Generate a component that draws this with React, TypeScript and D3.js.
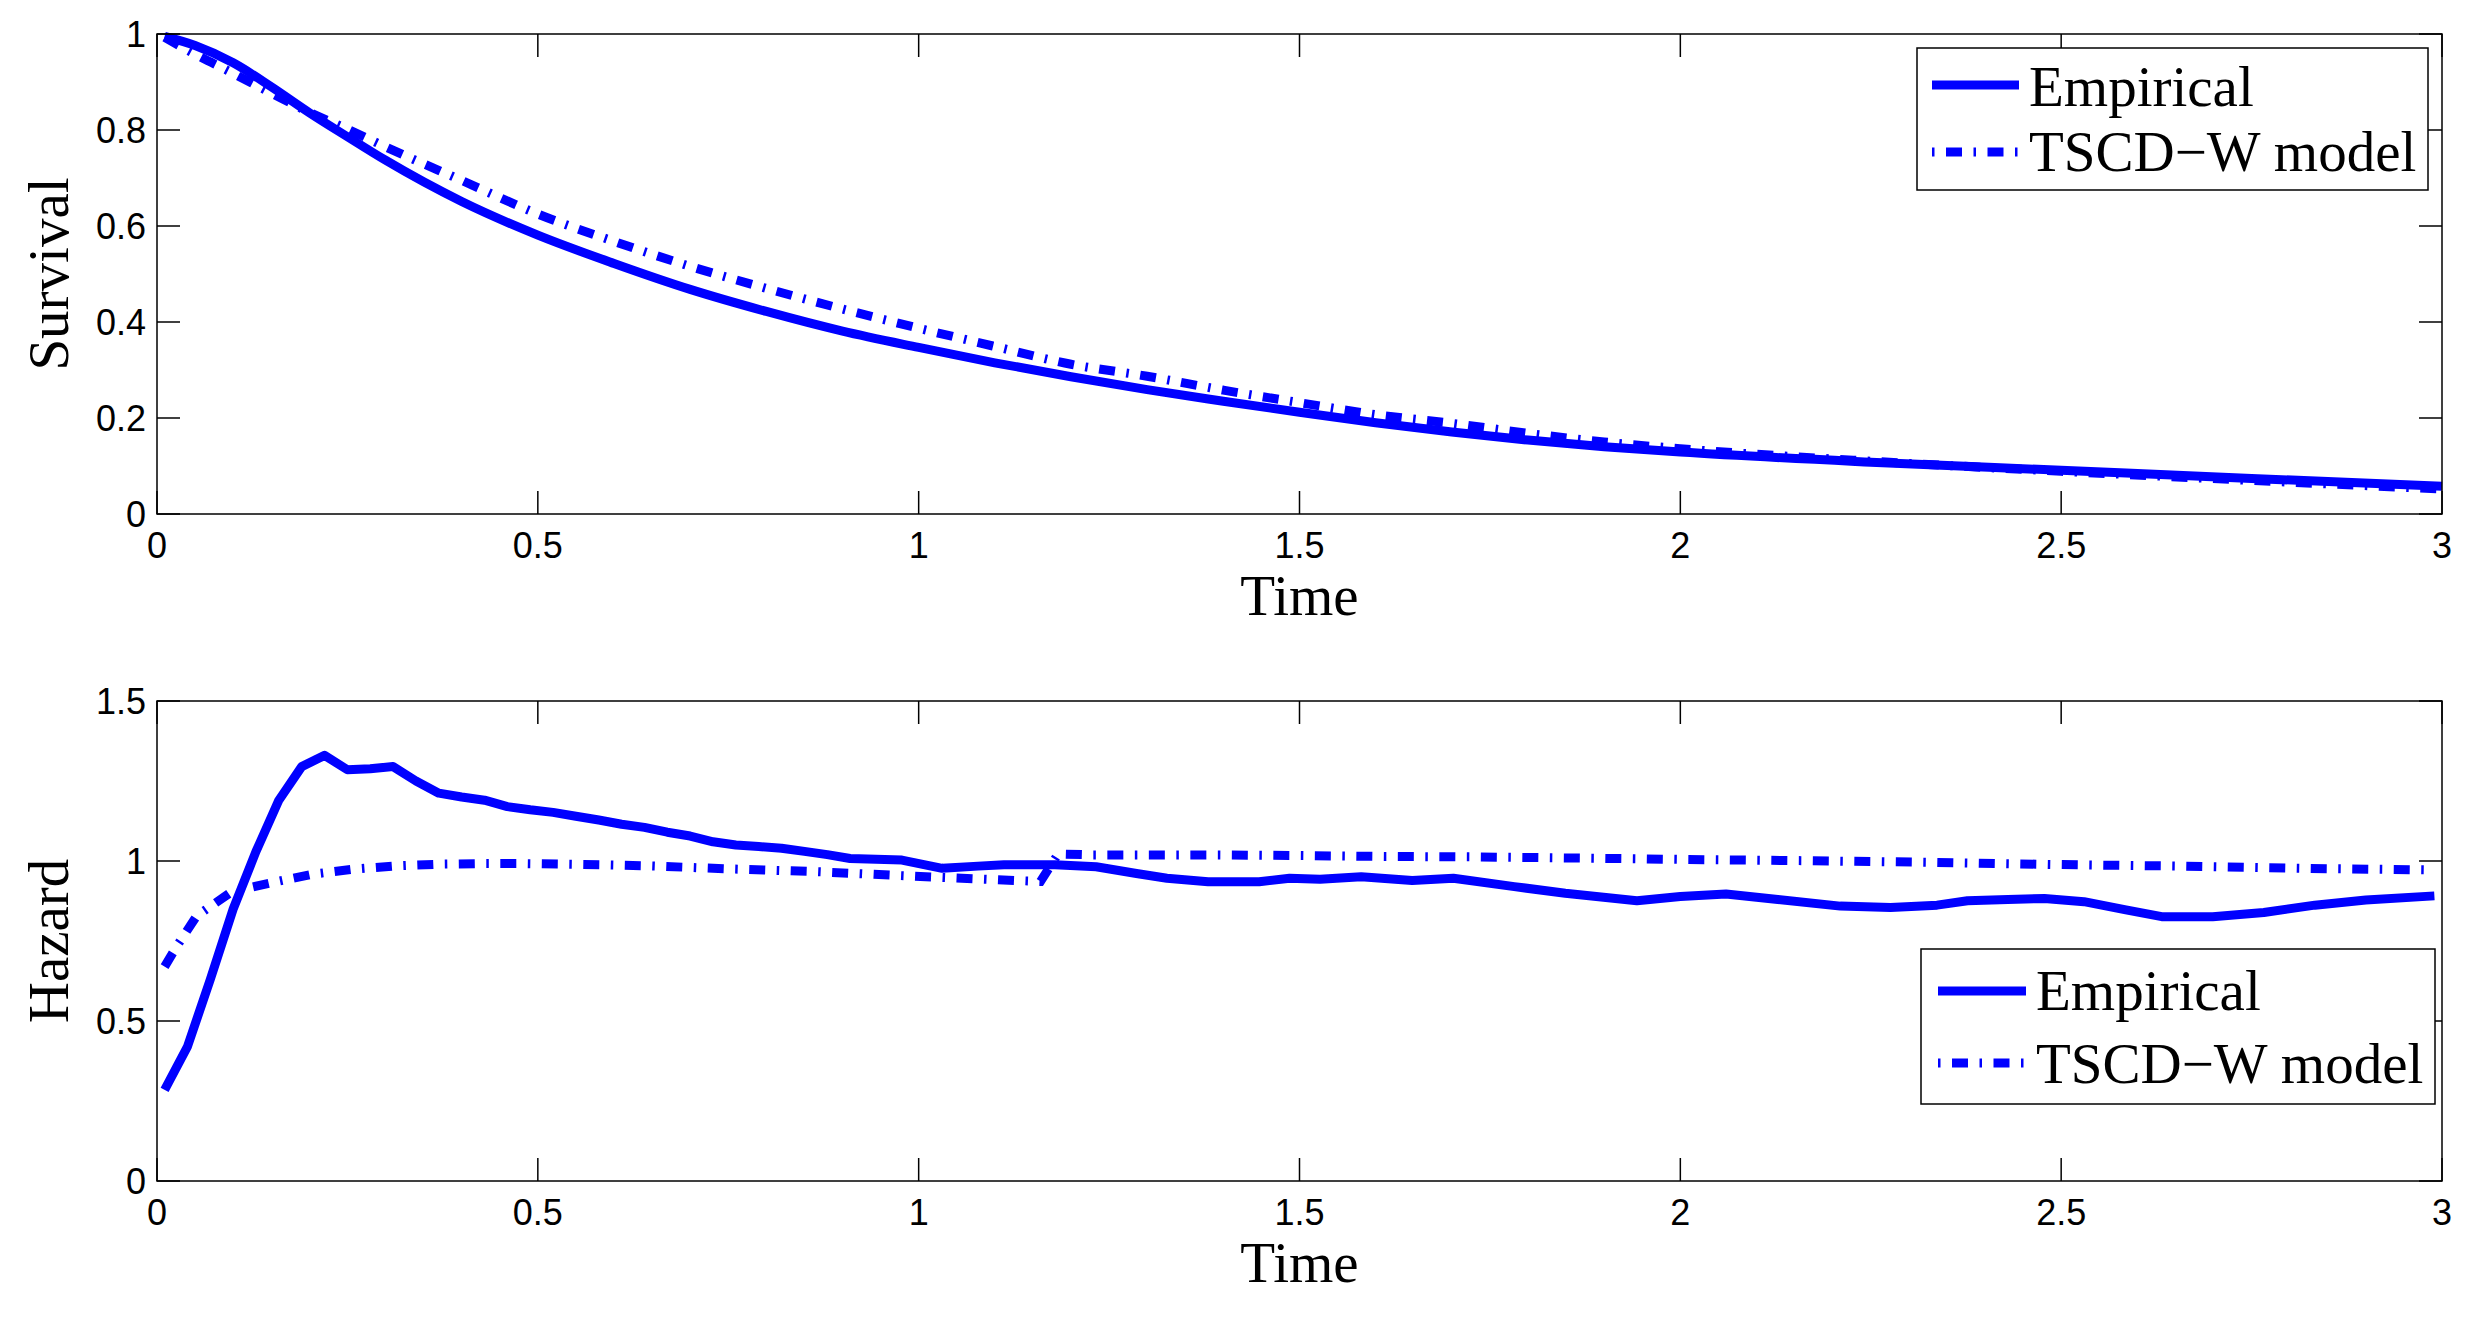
import * as d3 from "d3";

// values
const xTicks = [0, 0.5, 1, 1.5, 2, 2.5, 3];
const survivalTicks = [0, 0.2, 0.4, 0.6, 0.8, 1];
const hazardTicks = [0, 0.5, 1, 1.5];
const legendLabels = ["Empirical", "TSCD\u2212W model"];

const survivalEmpirical: [number, number][] = [
  [0.01, 0.995], [0.05, 0.976], [0.1, 0.94], [0.15, 0.89], [0.2, 0.836],
  [0.25, 0.786], [0.3, 0.737], [0.4, 0.651], [0.5, 0.581], [0.6, 0.522],
  [0.7, 0.468], [0.8, 0.422], [0.9, 0.381], [1.0, 0.347], [1.1, 0.315],
  [1.2, 0.286], [1.3, 0.259], [1.4, 0.235], [1.5, 0.212], [1.6, 0.19],
  [1.7, 0.171], [1.8, 0.154], [1.9, 0.14], [2.0, 0.129], [2.25, 0.108],
  [2.5, 0.091], [2.75, 0.074], [3.0, 0.058],
];

const survivalModel: [number, number][] = [
  [0.01, 0.993], [0.05, 0.958], [0.1, 0.918], [0.15, 0.877], [0.2, 0.837],
  [0.25, 0.802], [0.3, 0.765], [0.4, 0.695], [0.5, 0.625], [0.6, 0.568],
  [0.7, 0.516], [0.8, 0.47], [0.9, 0.427], [1.0, 0.387], [1.1, 0.349],
  [1.2, 0.312], [1.3, 0.287], [1.4, 0.258], [1.5, 0.232], [1.6, 0.207],
  [1.7, 0.189], [1.8, 0.168], [1.9, 0.15], [2.0, 0.136], [2.25, 0.11],
  [2.5, 0.089], [2.75, 0.07], [3.0, 0.052],
];

const hazardEmpirical: [number, number][] = [
  [0.01, 0.285], [0.04, 0.42], [0.07, 0.63], [0.1, 0.85], [0.13, 1.03],
  [0.16, 1.19], [0.19, 1.295], [0.22, 1.33], [0.25, 1.285], [0.28, 1.288],
  [0.31, 1.295], [0.34, 1.25], [0.37, 1.212], [0.4, 1.2], [0.43, 1.19],
  [0.46, 1.17], [0.49, 1.16], [0.52, 1.152], [0.55, 1.14], [0.58, 1.128],
  [0.61, 1.115], [0.64, 1.105], [0.67, 1.09], [0.7, 1.078], [0.73, 1.06],
  [0.76, 1.05], [0.79, 1.045], [0.82, 1.04], [0.85, 1.03], [0.88, 1.02],
  [0.91, 1.008], [0.978, 1.003], [1.031, 0.977], [1.078, 0.984], [1.112, 0.988],
  [1.179, 0.988], [1.233, 0.982], [1.286, 0.961], [1.326, 0.946], [1.38, 0.935],
  [1.447, 0.935], [1.487, 0.946], [1.527, 0.943], [1.581, 0.951], [1.648, 0.939],
  [1.702, 0.946], [1.782, 0.92], [1.849, 0.899], [1.943, 0.876], [2.0, 0.889],
  [2.06, 0.897], [2.128, 0.88], [2.21, 0.859], [2.276, 0.855], [2.337, 0.862],
  [2.377, 0.876], [2.43, 0.88], [2.478, 0.883], [2.53, 0.873], [2.585, 0.847],
  [2.632, 0.826], [2.699, 0.826], [2.766, 0.839], [2.833, 0.862], [2.9, 0.878],
  [2.99, 0.891],
];

const hazardModel: [number, number][] = [
  [0.01, 0.67], [0.025, 0.73], [0.052, 0.828], [0.098, 0.904], [0.152, 0.933],
  [0.205, 0.959], [0.26, 0.975], [0.315, 0.985], [0.369, 0.99], [0.424, 0.992],
  [0.48, 0.992], [0.534, 0.99], [0.589, 0.988], [0.644, 0.985], [0.699, 0.98],
  [0.754, 0.975], [0.808, 0.971], [0.863, 0.967], [0.917, 0.961], [0.97, 0.955],
  [1.028, 0.949], [1.139, 0.938], [1.16, 0.936], [1.183, 1.022], [1.229, 1.019],
  [1.393, 1.019], [1.503, 1.017], [1.614, 1.014], [1.725, 1.013], [1.834, 1.01],
  [1.943, 1.007], [2.0, 1.005], [2.164, 1.001], [2.328, 0.996], [2.493, 0.989],
  [2.657, 0.984], [2.821, 0.977], [2.985, 0.972],
];

const W = 2478;
const H = 1318;
const X0 = 157;
const X1 = 2442;
const BLUE = "#0000ff";
const LINE_W = 9;
const DASHDOT = "16 11.5 2.5 11.5";
const TICK_LEN = 23;
const TICK_FONT = "'Liberation Sans', Arial, sans-serif";
const TICK_SIZE = 36;
const LABEL_FONT = "'Liberation Serif', 'Times New Roman', serif";

type Legend = {
  x0: number;
  x1: number;
  y0: number;
  y1: number;
  lineX0: number;
  lineX1: number;
  rows: number[];
  textX: number;
  baselines: number[];
};

type PanelProps = {
  top: number;
  bottom: number;
  yMax: number;
  yTicks: number[];
  yLabel: string;
  empirical: [number, number][];
  model: [number, number][];
  smooth: boolean;
  legend: Legend;
};

const x = d3.scaleLinear().domain([0, 3]).range([X0, X1]);

const Panel = ({
  top,
  bottom,
  yMax,
  yTicks,
  yLabel,
  empirical,
  model,
  smooth,
  legend,
}: PanelProps) => {
  const y = d3.scaleLinear().domain([0, yMax]).range([bottom, top]);
  const line = d3
    .line<[number, number]>()
    .x((d) => x(d[0]))
    .y((d) => y(d[1]))
    .curve(smooth ? d3.curveMonotoneX : d3.curveLinear);

  return (
    <g>
      <path d={line(empirical)!} fill="none" stroke={BLUE} strokeWidth={LINE_W} strokeLinejoin="round" />
      <path
        d={line(model)!}
        fill="none"
        stroke={BLUE}
        strokeWidth={LINE_W}
        strokeDasharray={DASHDOT}
      />

      {/* box and ticks */}
      <rect x={X0} y={top} width={X1 - X0} height={bottom - top} fill="none" stroke="#000" strokeWidth={1.5} />
      {xTicks.map((t) => (
        <g key={"x" + t}>
          <line x1={x(t)} x2={x(t)} y1={bottom} y2={bottom - TICK_LEN} stroke="#000" strokeWidth={1.5} />
          <line x1={x(t)} x2={x(t)} y1={top} y2={top + TICK_LEN} stroke="#000" strokeWidth={1.5} />
          <text
            x={x(t)}
            y={bottom + 44}
            textAnchor="middle"
            fontFamily={TICK_FONT}
            fontSize={TICK_SIZE}
          >
            {t}
          </text>
        </g>
      ))}
      {yTicks.map((v) => (
        <g key={"y" + v}>
          <line x1={X0} x2={X0 + TICK_LEN} y1={y(v)} y2={y(v)} stroke="#000" strokeWidth={1.5} />
          <line x1={X1} x2={X1 - TICK_LEN} y1={y(v)} y2={y(v)} stroke="#000" strokeWidth={1.5} />
          <text
            x={X0 - 11}
            y={y(v) + 13}
            textAnchor="end"
            fontFamily={TICK_FONT}
            fontSize={TICK_SIZE}
          >
            {v}
          </text>
        </g>
      ))}

      <text
        x={(X0 + X1) / 2}
        y={bottom + 101}
        textAnchor="middle"
        fontFamily={LABEL_FONT}
        fontSize={57}
      >
        Time
      </text>
      <text
        transform={`translate(68, ${(top + bottom) / 2}) rotate(-90)`}
        textAnchor="middle"
        fontFamily={LABEL_FONT}
        fontSize={57}
      >
        {yLabel}
      </text>

      {/* legend */}
      <rect
        x={legend.x0}
        y={legend.y0}
        width={legend.x1 - legend.x0}
        height={legend.y1 - legend.y0}
        fill="#fff"
        stroke="#000"
        strokeWidth={1.5}
      />
      {legendLabels.map((label, i) => (
        <g key={label}>
          <line
            x1={legend.lineX0}
            x2={legend.lineX1}
            y1={legend.rows[i]}
            y2={legend.rows[i]}
            stroke={BLUE}
            strokeWidth={LINE_W}
            strokeDasharray={i === 1 ? DASHDOT : undefined}
            strokeDashoffset={i === 1 ? 27.5 : undefined}
          />
          <text x={legend.textX} y={legend.baselines[i]} fontFamily={LABEL_FONT} fontSize={57}>
            {label}
          </text>
        </g>
      ))}
    </g>
  );
};

export default function App() {
  return (
    <svg
      width={W}
      height={H}
      viewBox={`0 0 ${W} ${H}`}
      style={{ position: "absolute", left: 0, top: 0, background: "#fff" }}
    >
      <rect width={W} height={H} fill="#fff" />
      <Panel
        top={34}
        bottom={514}
        yMax={1}
        yTicks={survivalTicks}
        yLabel="Survival"
        empirical={survivalEmpirical}
        model={survivalModel}
        smooth={true}
        legend={{
          x0: 1917,
          x1: 2428,
          y0: 48,
          y1: 190,
          lineX0: 1932,
          lineX1: 2019,
          rows: [85, 152],
          textX: 2029,
          baselines: [106, 171],
        }}
      />
      <Panel
        top={701}
        bottom={1181}
        yMax={1.5}
        yTicks={hazardTicks}
        yLabel="Hazard"
        empirical={hazardEmpirical}
        model={hazardModel}
        smooth={false}
        legend={{
          x0: 1921,
          x1: 2435,
          y0: 949,
          y1: 1104,
          lineX0: 1938,
          lineX1: 2026,
          rows: [991, 1063],
          textX: 2036,
          baselines: [1010, 1083],
        }}
      />
    </svg>
  );
}
